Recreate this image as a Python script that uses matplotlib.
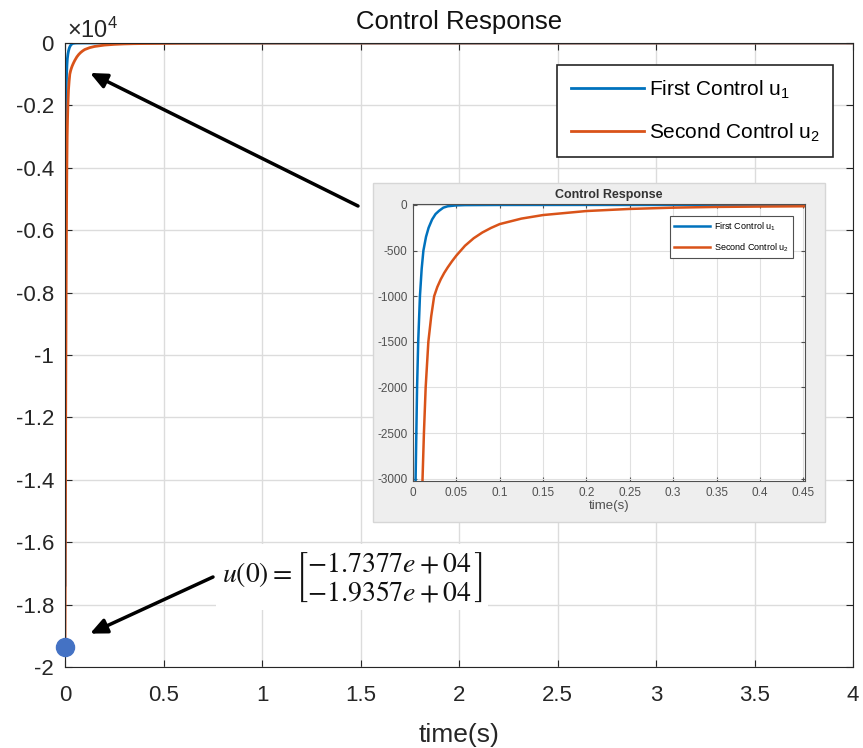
import numpy as np
import matplotlib
matplotlib.use('Agg')
import matplotlib.pyplot as plt
from matplotlib.patches import Rectangle
from matplotlib.ticker import FuncFormatter

plt.rcParams['font.family'] = ['Liberation Sans', 'DejaVu Sans']
plt.rcParams['axes.unicode_minus'] = False
plt.rcParams['mathtext.fontset'] = 'custom'
plt.rcParams['mathtext.rm'] = 'Liberation Sans'
plt.rcParams['mathtext.it'] = 'Liberation Sans'

#control signals
t_u1 = [0, 0.0005, 0.001, 0.0015, 0.002, 0.003, 0.0047, 0.006, 0.008, 0.010, 0.012,
        0.015, 0.018, 0.022, 0.026, 0.030, 0.035, 0.040, 0.050, 0.060, 0.1, 0.2,
        0.5, 1, 2, 4]
u1 = [-17377, -13000, -9700, -7200, -5400, -3000, -2000, -1500, -1000, -700, -500,
      -350, -250, -160, -100, -65, -30, -15, -5, -2, -0.5, 0,
      0, 0, 0, 0]

t_u2 = [0, 0.002, 0.004, 0.006, 0.008, 0.0095, 0.011, 0.0126, 0.0146, 0.0177, 0.021,
        0.0244, 0.028, 0.032, 0.036, 0.040, 0.045, 0.050, 0.060, 0.070, 0.080, 0.090,
        0.100, 0.125, 0.150, 0.200, 0.250, 0.300, 0.350, 0.400, 0.450, 0.6, 0.8, 1.0,
        1.5, 2, 3, 4]
u2 = [-19357, -15500, -11000, -7600, -5200, -3900, -3000, -2500, -2000, -1500, -1220,
      -1000, -900, -815, -745, -685, -617, -555, -447, -365, -302, -252,
      -210, -150, -111, -67, -44, -30, -22, -18, -15, -8, -4, -2,
      -1, -0.5, 0, 0]

u0 = [-17377, -19357]

labels = ['First Control u$_1$', 'Second Control u$_2$']
c1 = '#0072BD'
c2 = '#D95319'
dark = '#262626'

W, H = 863, 748
fig = plt.figure(figsize=(W / 100, H / 100), dpi=100)
fig.patch.set_facecolor('white')

def px_box(x0, y0, x1, y1):
    return [x0 / W, 1 - y1 / H, (x1 - x0) / W, (y1 - y0) / H]

#main axes
ax = fig.add_axes(px_box(65, 43, 853, 667))
ax.plot(t_u1, u1, color=c1, lw=2, label=labels[0])
ax.plot(t_u2, u2, color=c2, lw=2, label=labels[1])
ax.set_xlim(0, 4)
ax.set_ylim(-20000, 0)
ax.set_xticks(np.arange(0, 4.01, 0.5))
ax.set_yticks(np.arange(-20000, 1, 2000))
ax.xaxis.set_major_formatter(FuncFormatter(lambda v, p: f'{v:g}'))
ax.yaxis.set_major_formatter(FuncFormatter(lambda v, p: f'{v / 1e4:g}'))
ax.grid(True, color='#dcdcdc', lw=1)
ax.tick_params(direction='in', length=5, labelsize=16, colors=dark,
               top=True, right=True)
ax.tick_params(axis='x', pad=13)
ax.tick_params(axis='y', pad=8)
for s in ax.spines.values():
    s.set_color(dark)
ax.set_title('Control Response', fontsize=18.5, color='#111111', pad=10)
ax.set_xlabel('time(s)', fontsize=19, color=dark, labelpad=12)
fig.text(67 / W, 1 - 38 / H, r'$\times$10$^4$', fontsize=17, color=dark)

leg = ax.legend(loc='upper right', bbox_to_anchor=(0.975, 0.965), borderaxespad=0,
                fontsize=15, handlelength=3.5, handletextpad=0.25, borderpad=0.65,
                labelspacing=1.0, fancybox=False, framealpha=1)
leg.get_frame().set_edgecolor(dark)
leg.get_frame().set_linewidth(1.2)

#initial control point
ax.plot([0], [u0[1]], 'o', color='#4472C4', ms=13, clip_on=False, zorder=5)

#zoomed panel
fig.patches.append(Rectangle((373 / W, 1 - 522 / H), 452 / W, 339 / H,
                             transform=fig.transFigure, facecolor='#eeeeee',
                             edgecolor='#d6d6d6', lw=1, zorder=1))
axi = fig.add_axes(px_box(413, 204, 805, 481), zorder=2)
axi.plot(t_u1, u1, color=c1, lw=1.8, label=labels[0])
axi.plot(t_u2, u2, color=c2, lw=1.8, label=labels[1])
axi.set_xlim(0, 0.452)
axi.set_ylim(-3025, 10)
axi.set_xticks(np.arange(0, 0.451, 0.05))
axi.set_yticks(np.arange(-3000, 1, 500))
axi.xaxis.set_major_formatter(FuncFormatter(lambda v, p: f'{v:g}'))
axi.grid(True, color='#e0e0e0', lw=0.8)
axi.tick_params(direction='in', length=3, labelsize=8.5, colors='#505050',
                top=True, right=True, pad=4)
for s in axi.spines.values():
    s.set_color('#505050')
    s.set_linewidth(0.8)
axi.set_title('Control Response', fontsize=9, fontweight='bold', color='#333333', pad=4)
axi.set_xlabel('time(s)', fontsize=9.5, color='#505050', labelpad=1)
legi = axi.legend(loc='upper right', bbox_to_anchor=(0.97, 0.957), borderaxespad=0,
                  fontsize=6.5, handlelength=4.0, handletextpad=0.4, borderpad=0.5,
                  labelspacing=0.9, fancybox=False, framealpha=1)
legi.get_frame().set_edgecolor('#505050')
legi.get_frame().set_linewidth(0.8)

#arrows
arrow = dict(arrowstyle='-|>,head_length=1.0,head_width=0.45', color='black', lw=2.5,
             shrinkA=0, shrinkB=0)
ax.annotate('', xy=(0.127, -960), xycoords='data',
            xytext=(358, H - 206), textcoords='figure pixels', arrowprops=arrow, zorder=6)
ax.annotate('', xy=(0.127, -18930), xycoords='data',
            xytext=(213, H - 577), textcoords='figure pixels', arrowprops=arrow, zorder=6)

#u(0) label
fig.text(222 / W, 1 - 577 / H,
         r'$u(0) = \genfrac{[}{]}{0}{0}{-1.7377e + 04}{-1.9357e + 04}$',
         fontsize=20, math_fontfamily='stix', va='center', ha='left', color='#111111',
         bbox=dict(facecolor='white', edgecolor='none', pad=4), zorder=7)

fig.savefig('out.png', dpi=100)
